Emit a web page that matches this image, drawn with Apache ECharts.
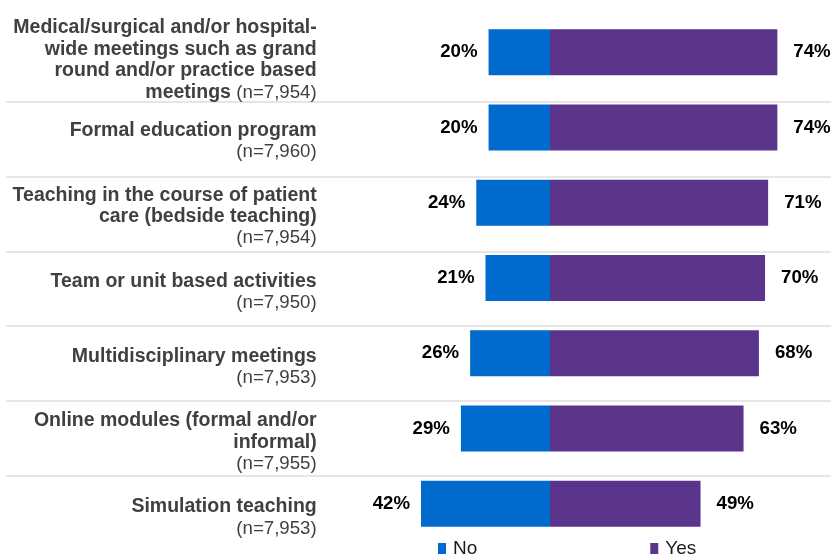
<!DOCTYPE html>
<html>
<head>
<meta charset="utf-8">
<title>Learning activities</title>
<script src="https://cdn.jsdelivr.net/npm/echarts@6/dist/echarts.min.js"></script>
<style>
  html, body { margin: 0; padding: 0; background: #ffffff; }
  #chart { width: 831px; height: 560px; }
</style>
</head>
<body>
<div id="chart"></div>
<script>
// Row labels: activity name with sample size, line breaks as printed
const categories = [
  'Medical/surgical and/or hospital-\nwide meetings such as grand\nround and/or practice based\nmeetings (n=7,954)',
  'Formal education program\n(n=7,960)',
  'Teaching in the course of patient\ncare (bedside teaching)\n(n=7,954)',
  'Team or unit based activities\n(n=7,950)',
  'Multidisciplinary meetings\n(n=7,953)',
  'Online modules (formal and/or\ninformal)\n(n=7,955)',
  'Simulation teaching\n(n=7,953)'
];

// Share of respondents (%)
const noValues = [20, 20, 24, 21, 26, 29, 42];
const yesValues = [74, 74, 71, 70, 68, 63, 49];

const seriesNames = ['No', 'Yes'];

const FONT = '"Liberation Sans", Arial, sans-serif';
const BLUE = '#006BCD';
const PURPLE = '#5B358C';

// Bold activity name, regular "(n=...)" part
function formatCategory(value) {
  const lines = value.split('\n').map(function (line) {
    const i = line.indexOf('(n=');
    if (i < 0) return '{b|' + line + '}';
    const head = line.slice(0, i);
    return (head ? '{b|' + head + '}' : '') + '{n|' + line.slice(i) + '}';
  });
  // the four-line label sits a little higher in its row
  if (lines.length > 3) lines.push('');
  return lines.join('\n');
}

const chart = echarts.init(document.getElementById('chart'), null, { renderer: 'canvas' });

chart.setOption({
  backgroundColor: '#ffffff',
  animation: false,
  legend: {
    data: seriesNames,
    left: 438,
    top: 539,
    padding: 0,
    icon: 'rect',
    itemWidth: 8,
    itemHeight: 11,
    itemGap: 173,
    textStyle: { fontFamily: FONT, fontSize: 19, color: '#1a1a1a', padding: [0, 0, 0, 2] }
  },
  grid: [
    { left: 396.4, right: 4.5, top: 14.6, bottom: 18.6, outerBoundsMode: 'none' },
    // row separators
    { left: 6, right: 0, top: 27.2, bottom: 10, outerBoundsMode: 'none' }
  ],
  xAxis: [
    { type: 'value', gridIndex: 0, min: -50, max: 90, show: false },
    { type: 'value', gridIndex: 1, min: 0, max: 1, show: false }
  ],
  yAxis: [
    {
      type: 'category',
      gridIndex: 0,
      inverse: true,
      data: categories,
      axisLine: { show: false, onZero: false },
      axisTick: { show: false },
      splitLine: { show: false },
      axisLabel: {
        interval: 0,
        margin: 79.7,
        align: 'right',
        padding: [28, 0, 0, 0],
        formatter: formatCategory,
        rich: {
          b: { fontFamily: FONT, fontWeight: 'bold', fontSize: 19.5, color: '#404040', lineHeight: 21.5, align: 'right' },
          n: { fontFamily: FONT, fontWeight: 'normal', fontSize: 18.67, color: '#404040', lineHeight: 21.5, align: 'right' }
        }
      }
    },
    {
      type: 'category',
      gridIndex: 1,
      inverse: true,
      data: categories,
      axisLine: { show: false, onZero: false },
      axisTick: { show: false },
      axisLabel: { show: false },
      splitLine: {
        show: true,
        interval: 0,
        showMinLine: false,
        showMaxLine: false,
        lineStyle: { color: '#e6e6e6', width: 2 }
      }
    }
  ],
  series: [
    {
      name: seriesNames[0],
      type: 'bar',
      stack: 'share',
      xAxisIndex: 0,
      yAxisIndex: 0,
      barWidth: 46,
      itemStyle: { color: BLUE },
      label: {
        show: true,
        position: 'left',
        distance: 11,
        fontFamily: FONT,
        fontWeight: 'bold',
        fontSize: 18.67,
        color: '#000000',
        formatter: function (p) { return Math.abs(p.value) + '%'; }
      },
      data: noValues.map(function (v) { return -v; })
    },
    {
      name: seriesNames[1],
      type: 'bar',
      stack: 'share',
      xAxisIndex: 0,
      yAxisIndex: 0,
      barWidth: 46,
      itemStyle: { color: PURPLE },
      label: {
        show: true,
        position: 'right',
        distance: 16,
        fontFamily: FONT,
        fontWeight: 'bold',
        fontSize: 18.67,
        color: '#000000',
        formatter: function (p) { return p.value + '%'; }
      },
      data: yesValues
    }
  ]
});
</script>
</body>
</html>
